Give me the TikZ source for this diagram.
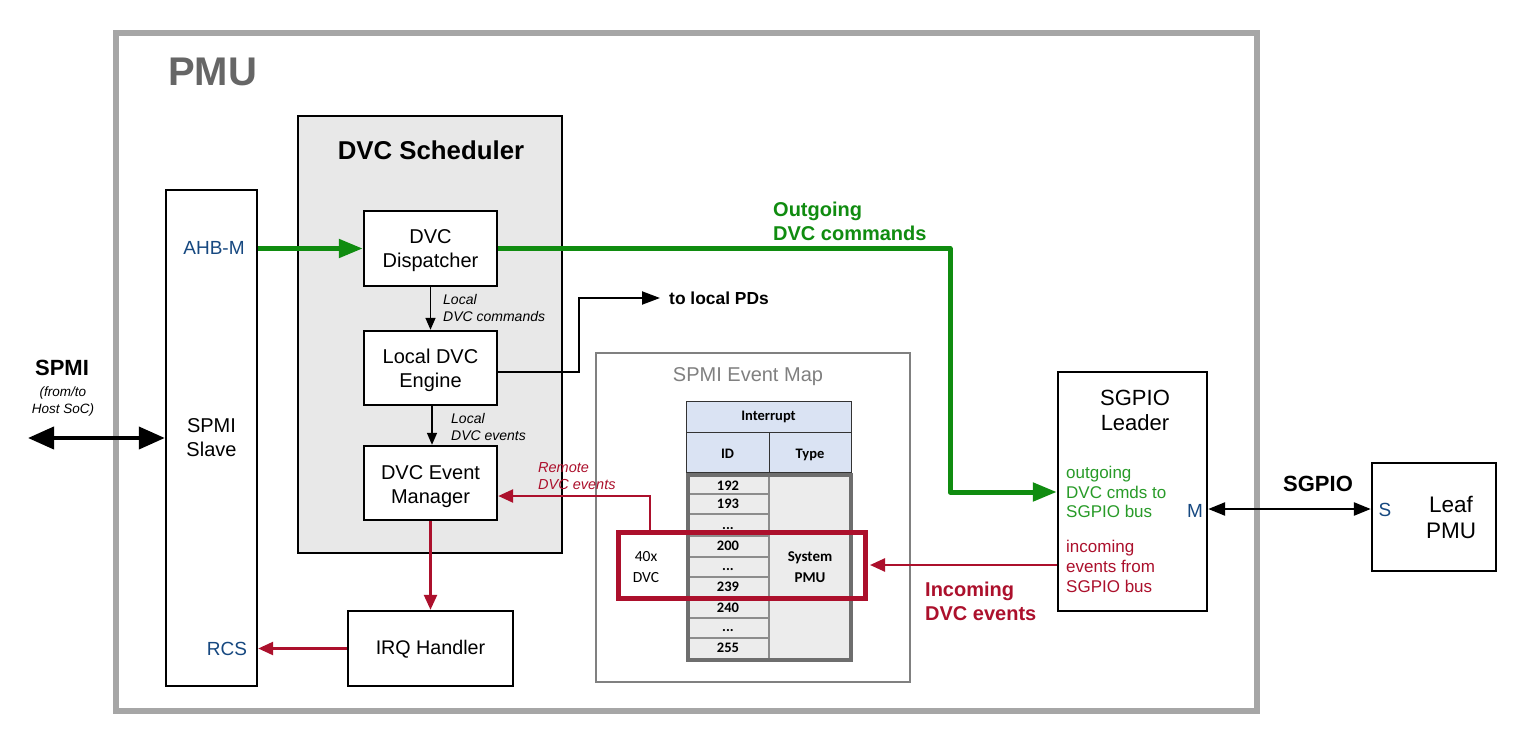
\documentclass[tikz,border=0pt]{standalone}
\usepackage{fontspec}
\setmainfont{Liberation Sans}
\newfontfamily\calib{Carlito}
\usetikzlibrary{arrows.meta,fit}
\newcommand\fsz[2]{\fontsize{#1}{#2}\selectfont}
\definecolor{outergray}{RGB}{166,166,166}
\definecolor{pmugray}{RGB}{102,102,102}
\definecolor{schedfill}{RGB}{232,232,232}
\definecolor{portblue}{RGB}{22,72,128}
\definecolor{gline}{RGB}{16,140,16}
\definecolor{gtext}{RGB}{40,155,40}
\definecolor{rline}{RGB}{172,16,44}
\definecolor{mapgray}{RGB}{128,128,128}
\definecolor{hdrfill}{RGB}{218,227,243}
\definecolor{bodyfill}{RGB}{236,236,236}
\definecolor{bodyborder}{RGB}{110,110,110}
\definecolor{cellline}{RGB}{140,140,140}
\begin{document}
\begin{tikzpicture}[x=1pt,y=-1pt,
  box/.style={draw=black,line width=2.4pt,fill=white,inner sep=0pt},
  txt/.style={inner sep=0pt,align=center,font=\fsz{20}{24}},
  port/.style={inner sep=0pt,text=portblue,font=\fsz{19}{23}},
  itl/.style={inner sep=0pt,align=left,font=\fsz{14}{17}\itshape},
  garrow/.style={draw=gline,line width=5pt,-{Triangle[length=24pt,width=18pt]}},
  barrow/.style={draw=black,line width=1.5pt,-{Triangle[length=12pt,width=10pt]}},
  rarrow/.style={draw=rline,line width=2.5pt,-{Triangle[length=15pt,width=13pt]}},
  tcell/.style={inner sep=0pt,font=\calib\bfseries\fsz{14.5}{20}},
]
\useasboundingbox (0,0) rectangle (1521,733);
\fill[white] (0,0) rectangle (1521,733);

% outer PMU frame
\node[draw=outergray,line width=6pt,inner sep=0pt,fit={(116,33)(1257,711)}] (pmu) {};
\node[inner sep=0pt,anchor=west,text=pmugray,font=\fsz{40}{46}\bfseries] (pmut) at (168,72) {PMU};

% DVC scheduler
\node[draw=black,line width=2.4pt,fill=schedfill,inner sep=0pt,fit={(298,116)(562,553)}] (sched) {};
\node[txt,font=\fsz{25.8}{30}\bfseries] (schedt) at (431,150) {DVC Scheduler};

% SPMI slave
\node[box,minimum width=91pt,minimum height=496pt] (slave) at (211.5,438) {};
\node[txt] (slavet) at (211.5,438) {SPMI\\Slave};
\node[port] (ahb) at (214,248) {AHB-M};
\node[port] (rcs) at (227,649) {RCS};

% scheduler blocks
\node[box,minimum width=133pt,minimum height=75pt] (disp) at (430.5,248.5) {};
\node[txt] (dispt) at (430.5,251) {DVC\\Dispatcher};
\node[box,minimum width=133pt,minimum height=74pt] (eng) at (430.5,368) {};
\node[txt] (engt) at (430.5,370.5) {Local DVC\\Engine};
\node[box,minimum width=133pt,minimum height=74pt] (evm) at (430.5,483) {};
\node[txt] (evmt) at (430.5,486.5) {DVC Event\\Manager};
\node[box,minimum width=165pt,minimum height=75pt] (irq) at (430.5,648.5) {};
\node[txt,font=\fsz{19.7}{24}] (irqt) at (430.5,649.5) {IRQ Handler};

% SPMI event map
\node[draw=mapgray,line width=2.5pt,fill=white,inner sep=0pt,fit={(596,353)(910,682)}] (map) {};
\node[inner sep=0pt,text=mapgray,font=\fsz{20}{24}] (mapt) at (748,377) {SPMI Event Map};

\node[draw=black!80,line width=1pt,fill=hdrfill,inner sep=0pt,fit={(686,401)(851,432)}] (hint) {};
\node[tcell] (hintt) at (768.5,416.5) {Interrupt};
\node[draw=black!80,line width=1pt,fill=hdrfill,inner sep=0pt,fit={(686,432)(769,472)}] (hid) {};
\node[tcell] (hidt) at (727.5,454) {ID};
\node[draw=black!80,line width=1pt,fill=hdrfill,inner sep=0pt,fit={(769,432)(851,472)}] (htype) {};
\node[tcell] (htypet) at (810,455) {Type};

\node[draw=bodyborder,line width=4.5pt,fill=bodyfill,inner sep=0pt,fit={(688,475)(851,660)}] (body) {};
\draw[cellline,line width=1.2pt] (769,477) -- (769,658);
\foreach \yy in {494,514,536,557,577,598,618,638}
  \draw[cellline,line width=1.2pt] (690,\yy) -- (769,\yy);
\node[tcell] (r1) at (728,486) {192};
\node[tcell] (r2) at (728,504) {193};
\node[tcell] (r3) at (728,529) {...};
\node[tcell] (r4) at (728,546) {200};
\node[tcell] (r5) at (728,570) {...};
\node[tcell] (r6) at (728,587) {239};
\node[tcell] (r7) at (728,608) {240};
\node[tcell] (r8) at (728,631) {...};
\node[tcell] (r9) at (728,648) {255};
\node[tcell,align=center,font=\calib\bfseries\fsz{15}{21}] (sysp) at (810,567) {System\\PMU};

\node[draw=rline,line width=5pt,inner sep=0pt,fit={(618,532)(865,598)}] (rbox) {};
\node[inner sep=0pt,align=center,font=\calib\fsz{15.5}{21}] (dvc40) at (646,567) {40x\\DVC};

% SGPIO leader and leaf
\node[box,fit={(1058,372)(1207,611)}] (sgpio) {};
\node[txt,font=\fsz{22}{25}] (sgpiot) at (1135,410) {SGPIO\\Leader};
\node[inner sep=0pt,anchor=west,align=left,text=gtext,font=\fsz{17}{19.5}] (outg) at (1066,492) {outgoing\\DVC cmds to\\SGPIO bus};
\node[inner sep=0pt,anchor=west,align=left,text=rline,font=\fsz{17}{20}] (inc) at (1066,566) {incoming\\events from\\SGPIO bus};
\node[port] (mport) at (1195,511) {M};
\node[box,fit={(1372,463)(1496,571)}] (leaf) {};
\node[txt,font=\fsz{22.5}{26}] (leaft) at (1451,517) {Leaf\\PMU};
\node[port] (sport) at (1385,510) {S};
\node[inner sep=0pt,font=\fsz{22}{24}\bfseries] (sgpiol) at (1318,484) {SGPIO};

% left SPMI label
\node[inner sep=0pt,font=\fsz{22}{24}\bfseries] (spmil) at (62,368) {SPMI};
\node[inner sep=0pt,align=center,font=\fsz{13.5}{17}\itshape] (hostl) at (63,402) {(from/to\\Host SoC)};

% labels
\node[inner sep=0pt,anchor=west,align=left,text=gline,font=\fsz{20}{24}\bfseries] (outl) at (773,221) {Outgoing\\DVC commands};
\node[inner sep=0pt,anchor=west,align=left,text=rline,font=\fsz{20}{24}\bfseries] (incl) at (925,601) {Incoming\\DVC events};
\node[inner xsep=9pt,inner ysep=0pt,anchor=west,font=\fsz{17.4}{19}\bfseries] (pds) at (660,298) {to local PDs};
\node[itl,anchor=west] (lcmd) at (443,308) {Local\\DVC commands};
\node[itl,anchor=west] (levt) at (451,427) {Local\\DVC events};
\node[itl,anchor=west,text=rline,font=\fsz{14.5}{17}\itshape] (remote) at (538,476) {Remote\\DVC events};

% connectors
\draw[garrow] (slave.east |- disp.west) -- (disp.west);
\coordinate (gc) at (950,492);
\draw[garrow,line join=round] (disp.east) -| (gc) -- (gc -| sgpio.west);

\draw[barrow] (disp.south) -- (eng.north);
\draw[barrow] ([xshift=1.5pt]eng.south) -- ([xshift=1.5pt]evm.north);
\coordinate (pdc) at (579,298);
\draw[draw=black,line width=2pt,-{Triangle[length=18pt,width=13pt]}] ([yshift=-4pt]eng.east) -| (pdc) -- (pds.west);

\coordinate (rc) at (650,496);
\draw[rarrow] (rbox.north -| rc) -- (rc) -- (rc -| evm.east);
\draw[rarrow] (rbox.east -| sgpio.west) -- ([xshift=2.5pt]rbox.east);
\draw[rarrow] (evm.south) -- (irq.north);
\draw[rarrow] (irq.west) -- (slave.east |- irq.west);

\coordinate (spl) at (28,438);
\draw[line width=4pt,{Triangle[length=26pt,width=22pt]}-{Triangle[length=26pt,width=22pt]}] (spl) -- (spl -| slave.west);
\coordinate (sgy) at (1300,509);
\draw[line width=2.5pt,{Triangle[length=17pt,width=13pt]}-{Triangle[length=17pt,width=13pt]}] (sgy -| sgpio.east) -- (sgy -| leaf.west);
\end{tikzpicture}
\end{document}
